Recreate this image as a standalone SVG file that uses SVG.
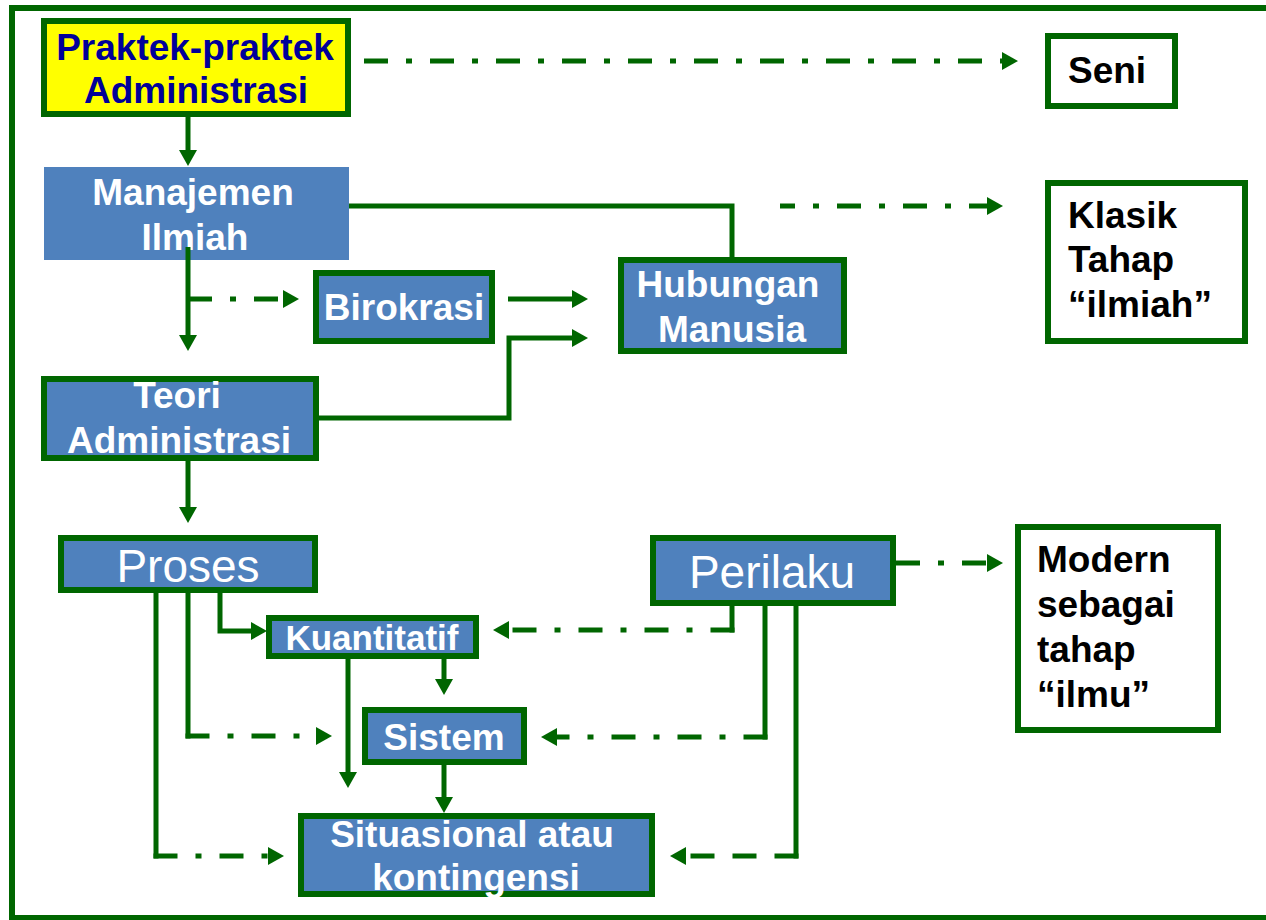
<svg xmlns="http://www.w3.org/2000/svg" width="1266" height="920" viewBox="0 0 1266 920">
<defs>
<style>
.frame{stroke:#006600;stroke-width:6;fill:none}
.box{fill:#4F81BD;stroke:#006600;stroke-width:6}
.plain{fill:#4F81BD}
.white{fill:#FFFFFF;stroke:#006600;stroke-width:6}
.yellow{fill:#FFFF00;stroke:#006600;stroke-width:6}
.t{font-family:"Liberation Sans",Arial,sans-serif;font-weight:bold;font-size:37px;text-anchor:middle;fill:#FFFFFF}
.tr{font-family:"Liberation Sans",Arial,sans-serif;font-weight:normal;font-size:46px;text-anchor:middle;fill:#FFFFFF}
.tb{font-family:"Liberation Sans",Arial,sans-serif;font-weight:bold;font-size:37px;fill:#000000}
.ty{font-family:"Liberation Sans",Arial,sans-serif;font-weight:bold;font-size:37px;text-anchor:middle;fill:#000099}
.s{stroke:#006600;stroke-width:5;fill:none}
.dd{stroke:#006600;stroke-width:5;fill:none;stroke-dasharray:24 18 6 18}
.d{stroke:#006600;stroke-width:5;fill:none;stroke-dasharray:24 18}
</style>
<marker id="ah" markerUnits="userSpaceOnUse" markerWidth="17" markerHeight="18" refX="0" refY="9" orient="auto" overflow="visible">
<path d="M0,0 L16,9 L0,18 Z" fill="#006600"/>
</marker>
</defs>
<rect width="1266" height="920" fill="#FFFFFF"/>
<g id="frame">
<path class="frame" d="M1266,8 H12 V918 H1266"/>
</g>
<g id="praktek">
<rect class="yellow" x="44" y="21" width="304" height="93"/>
<text class="ty" x="195" y="60">Praktek-praktek</text>
<text class="ty" x="196" y="103">Administrasi</text>
</g>
<g id="seni">
<rect class="white" x="1048" y="36" width="127" height="70"/>
<text class="tb" x="1068" y="83">Seni</text>
</g>
<g id="manajemen">
<rect class="plain" x="44" y="167" width="305" height="93"/>
<text class="t" x="193" y="205">Manajemen</text>
<text class="t" x="195" y="250">Ilmiah</text>
</g>
<g id="klasik">
<rect class="white" x="1048" y="183" width="197" height="158"/>
<text class="tb" x="1068" y="228">Klasik</text>
<text class="tb" x="1068" y="272">Tahap</text>
<text class="tb" x="1068" y="317">“ilmiah”</text>
</g>
<g id="birokrasi">
<rect class="box" x="316" y="273" width="176" height="68"/>
<text class="t" x="404" y="320">Birokrasi</text>
</g>
<g id="hubungan">
<rect class="box" x="621" y="260" width="223" height="91"/>
<text class="t" x="728" y="297">Hubungan</text>
<text class="t" x="732" y="342">Manusia</text>
</g>
<g id="teori">
<rect class="box" x="44" y="379" width="272" height="79"/>
<text class="t" x="177" y="408">Teori</text>
<text class="t" x="179" y="453">Administrasi</text>
</g>
<g id="proses">
<rect class="box" x="61" y="538" width="254" height="52"/>
<text class="tr" x="188" y="582">Proses</text>
</g>
<g id="perilaku">
<rect class="box" x="653" y="538" width="240" height="65"/>
<text class="tr" x="772" y="588">Perilaku</text>
</g>
<g id="modern">
<rect class="white" x="1018" y="527" width="200" height="203"/>
<text class="tb" x="1037" y="572">Modern</text>
<text class="tb" x="1037" y="617">sebagai</text>
<text class="tb" x="1037" y="662">tahap</text>
<text class="tb" x="1037" y="707">“ilmu”</text>
</g>
<g id="kuantitatif">
<rect class="box" x="269" y="618" width="207" height="38"/>
<text class="t" x="372" y="650" style="font-size:35px">Kuantitatif</text>
</g>
<g id="sistem">
<rect class="box" x="365" y="710" width="159" height="52"/>
<text class="t" x="444" y="750">Sistem</text>
</g>
<g id="situasional">
<rect class="box" x="301" y="816" width="351" height="78"/>
<text class="t" x="472" y="847">Situasional atau</text>
<text class="t" x="476" y="890">kontingensi</text>
</g>
<g id="connectors">
<path class="dd" d="M364,61 H1002" marker-end="url(#ah)"/>
<path class="s" d="M188,117 V150" marker-end="url(#ah)"/>
<path class="s" d="M349,206 H732 V258"/>
<path class="dd" style="stroke-dashoffset:9" d="M780,206 H987" marker-end="url(#ah)"/>
<path class="s" d="M188,247 V335" marker-end="url(#ah)"/>
<path class="dd" d="M188,299 H283" marker-end="url(#ah)"/>
<path class="s" d="M508,299 H572" marker-end="url(#ah)"/>
<path class="s" d="M319,418 H509 V338 H572" marker-end="url(#ah)"/>
<path class="s" d="M188,461 V507" marker-end="url(#ah)"/>
<path class="s" d="M220,593 V631 H251" marker-end="url(#ah)"/>
<path class="s" d="M188,593 V738.5"/>
<path class="dd" d="M185.5,736 H316" marker-end="url(#ah)"/>
<path class="s" d="M156,593 V858.5"/>
<path class="dd" d="M153.5,856 H268" marker-end="url(#ah)"/>
<path class="s" d="M444,659 V679" marker-end="url(#ah)"/>
<path class="s" d="M348,659 V772" marker-end="url(#ah)"/>
<path class="s" d="M444,765 V797" marker-end="url(#ah)"/>
<path class="dd" d="M896,563 H987" marker-end="url(#ah)"/>
<path class="s" d="M732,606 V632.5"/>
<path class="dd" d="M734.5,630 H509" marker-end="url(#ah)"/>
<path class="s" d="M765,606 V739.5"/>
<path class="dd" d="M767.5,737 H557" marker-end="url(#ah)"/>
<path class="s" d="M796,606 V858.5"/>
<path class="d" d="M798.5,856 H686" marker-end="url(#ah)"/>
</g>
</svg>
